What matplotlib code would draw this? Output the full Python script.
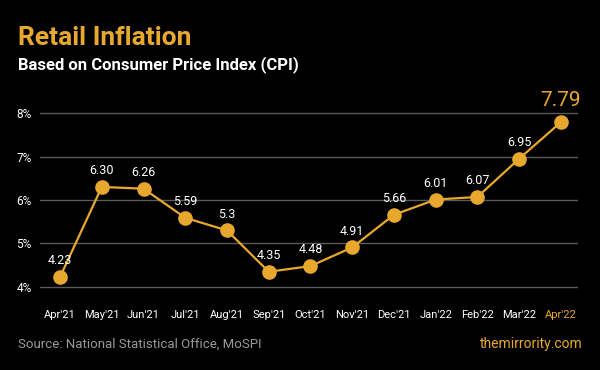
import matplotlib.pyplot as plt

months = ["Apr'21", "May'21", "Jun'21", "Jul'21", "Aug'21", "Sep'21", "Oct'21",
          "Nov'21", "Dec'21", "Jan'22", "Feb'22", "Mar'22", "Apr'22"]
cpi = [4.23, 6.30, 6.26, 5.59, 5.3, 4.35, 4.48, 4.91, 5.66, 6.01, 6.07, 6.95, 7.79]
point_labels = ["4.23", "6.30", "6.26", "5.59", "5.3", "4.35", "4.48",
                "4.91", "5.66", "6.01", "6.07", "6.95", "7.79"]
yticks = [4, 5, 6, 7, 8]

gold = "#E8A82E"
plt.rcParams['font.family'] = ['Roboto', 'DejaVu Sans']

fig = plt.figure(figsize=(6, 3.7), dpi=100, facecolor="black")
ax = fig.add_axes([0.0667, 0.2068, 0.8967, 0.523], facecolor="black")

x = list(range(len(months)))
ax.plot(x, cpi, color=gold, lw=1.6, marker="o", ms=9.5, zorder=3)

for i, (v, lab) in enumerate(zip(cpi, point_labels)):
    if i == len(cpi) - 1:
        ax.annotate(lab, (i, v), xytext=(0, 9), textcoords="offset points",
                    ha="center", va="bottom", color=gold, fontsize=15)
    else:
        ax.annotate(lab, (i, v), xytext=(0, 7), textcoords="offset points",
                    ha="center", va="bottom", color="white", fontsize=9)

ax.set_xlim(-0.48, 12.41)
ax.set_ylim(3.85, 8.3)
ax.set_yticks(yticks)
ax.set_yticklabels([f"{t}%" for t in yticks], color="white", fontsize=8.5)
ax.set_xticks(x)
ax.set_xticklabels(months, color="white", fontsize=8)
ax.get_xticklabels()[-1].set_color(gold)
ax.tick_params(length=0, pad=6)
ax.tick_params(axis="x", pad=12)
ax.grid(axis="y", color="#5a5a5a", lw=1)
ax.set_axisbelow(True)
for s in ax.spines.values():
    s.set_visible(False)

# title font in the original is a condensed face; Roboto bold is the closest here
fig.text(0.03, 0.878, "Retail Inflation", color=gold, fontsize=19, fontweight="bold")
fig.text(0.03, 0.812, "Based on Consumer Price Index (CPI)", color="white",
         fontsize=12, fontweight="bold")
fig.text(0.03, 0.06, "Source: National Statistical Office, MoSPI", color="#9a9a9a",
         fontsize=9.5)
fig.text(0.972, 0.06, "themirrority.com", color=gold, fontsize=10, ha="right")

fig.savefig("out.png", dpi=100, facecolor="black")
